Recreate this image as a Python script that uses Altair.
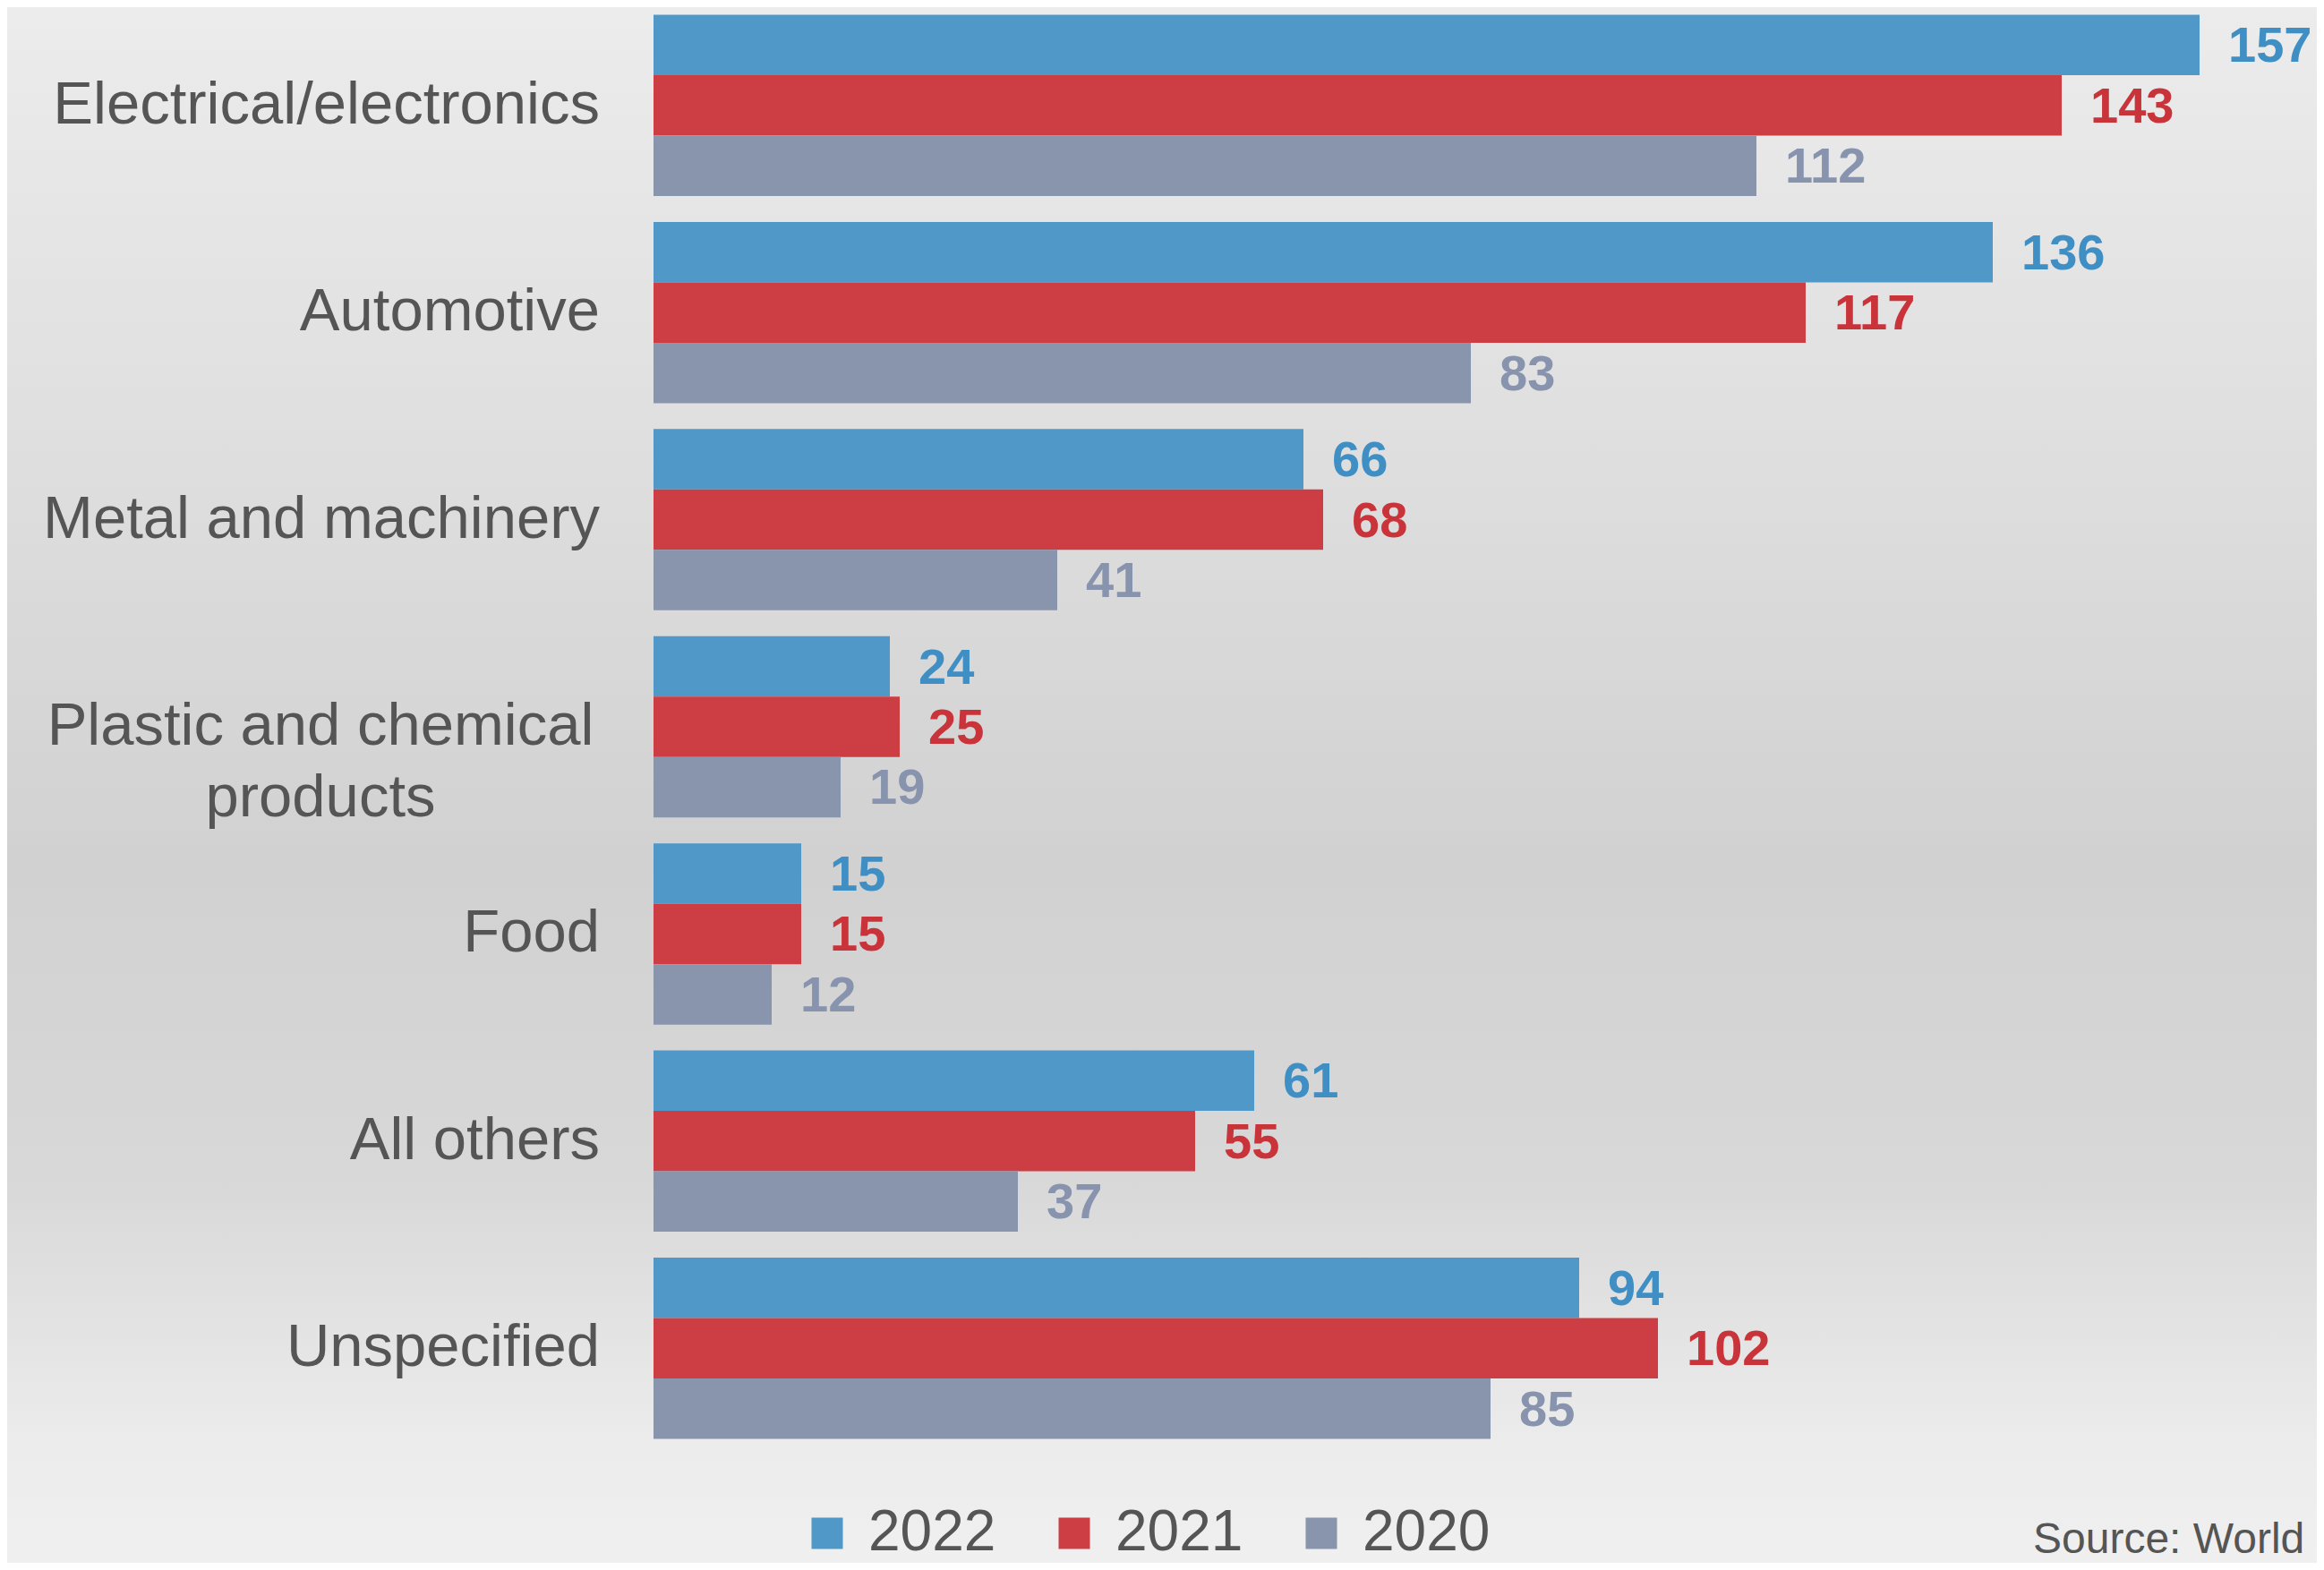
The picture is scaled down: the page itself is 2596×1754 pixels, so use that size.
import altair as alt
import pandas as pd

categories = ["Electrical/electronics", "Automotive", "Metal and machinery",
              "Plastic and chemical products", "Food", "All others", "Unspecified"]
years = ["2022", "2021", "2020"]
v2022 = [157, 136, 66, 24, 15, 61, 94]
v2021 = [143, 117, 68, 25, 15, 55, 102]
v2020 = [112, 83, 41, 19, 12, 37, 85]

bar_colors = ["#4f98c8", "#cc3e43", "#8994ad"]
label_colors = ["#3f8fc4", "#c9343a", "#8893ae"]

rows = []
for i, c in enumerate(categories):
    for y, vals, lc in zip(years, [v2022, v2021, v2020], label_colors):
        rows.append({"category": c, "year": y, "value": vals[i], "lcolor": lc})
df = pd.DataFrame(rows)

cat_rows = []
for c in categories:
    cat_rows.append({"category": c, "text": c.replace("Plastic and chemical products",
                                                       "Plastic and chemical\nproducts"),
                     "multi": c == "Plastic and chemical products"})
cat_df = pd.DataFrame(cat_rows)

W = 1848
H = 1608
FONT = "Liberation Sans"

yscale = alt.Scale(domain=categories, paddingInner=0.125, paddingOuter=0.037)
xscale = alt.Scale(domain=[0, 168], nice=False)
offscale = alt.Scale(domain=years, paddingInner=0, paddingOuter=0)

bg = alt.Chart(alt.Data(values=[{"a": 1}])).mark_rect(
    color=alt.Gradient(
        gradient="linear", x1=0, x2=0, y1=0, y2=1,
        stops=[alt.GradientStop(offset=0, color="#ececec"),
               alt.GradientStop(offset=0.3, color="#dedede"),
               alt.GradientStop(offset=0.55, color="#d1d1d1"),
               alt.GradientStop(offset=0.75, color="#d8d8d8"),
               alt.GradientStop(offset=0.92, color="#ececec"),
               alt.GradientStop(offset=1, color="#f0f0f0")]),
).encode(x=alt.value(-730), x2=alt.value(W + 20), y=alt.value(-8), y2=alt.value(H + 140))

base = alt.Chart(df)

bars = base.mark_bar().encode(
    y=alt.Y("category:N", scale=yscale, axis=None, sort=categories),
    yOffset=alt.YOffset("year:N", sort=years, scale=offscale),
    x=alt.X("value:Q", scale=xscale, axis=None),
    color=alt.Color("year:N", sort=years,
                    scale=alt.Scale(domain=years, range=bar_colors),
                    legend=alt.Legend(
                        title=None, orient="none", direction="horizontal",
                        legendX=162, legendY=1673, padding=0,
                        symbolType="square", symbolSize=1225, symbolStrokeWidth=0,
                        symbolOpacity=1,
                        labelFont=FONT, labelFontSize=64, labelColor="#555555",
                        labelOffset=14, columnPadding=55)),
)

labels = base.mark_text(align="left", baseline="middle", dx=32, dy=2,
                        font=FONT, fontSize=56, fontWeight="bold").encode(
    y=alt.Y("category:N", scale=yscale, axis=None, sort=categories),
    yOffset=alt.YOffset("year:N", sort=years, scale=offscale),
    x=alt.X("value:Q", scale=xscale, axis=None),
    text="value:Q",
    color=alt.Color("lcolor:N", scale=None),
)

cat_single = alt.Chart(cat_df).transform_filter("!datum.multi").mark_text(
    align="right", baseline="middle", font=FONT, fontSize=67, color="#555555"
).encode(
    y=alt.Y("category:N", scale=yscale, axis=None, sort=categories),
    x=alt.value(-60),
    text="text:N",
)

cat_multi = alt.Chart(cat_df).transform_filter("datum.multi").mark_text(
    align="center", baseline="middle", font=FONT, fontSize=67, color="#555555",
    lineBreak="\n", lineHeight=80
).encode(
    y=alt.Y("category:N", scale=yscale, axis=None, sort=categories),
    x=alt.value(-372),
    text="text:N",
)

source = alt.Chart(alt.Data(values=[{"t": "Source: World"}])).mark_text(
    align="left", baseline="alphabetic", font=FONT, fontSize=48, color="#555555"
).encode(x=alt.value(2271 - 730), y=alt.value(1727), text="t:N")

chart = alt.layer(bg, bars, labels, cat_single, cat_multi, source).properties(
    width=W, height=H,
    autosize=alt.AutoSizeParams(type="none"),
    padding={"left": 722, "top": 0, "right": 10, "bottom": 130},
    background="#e0e0e0",
).configure_view(stroke=None)

chart.save("out.html", embed_options={"renderer": "svg", "actions": False})
